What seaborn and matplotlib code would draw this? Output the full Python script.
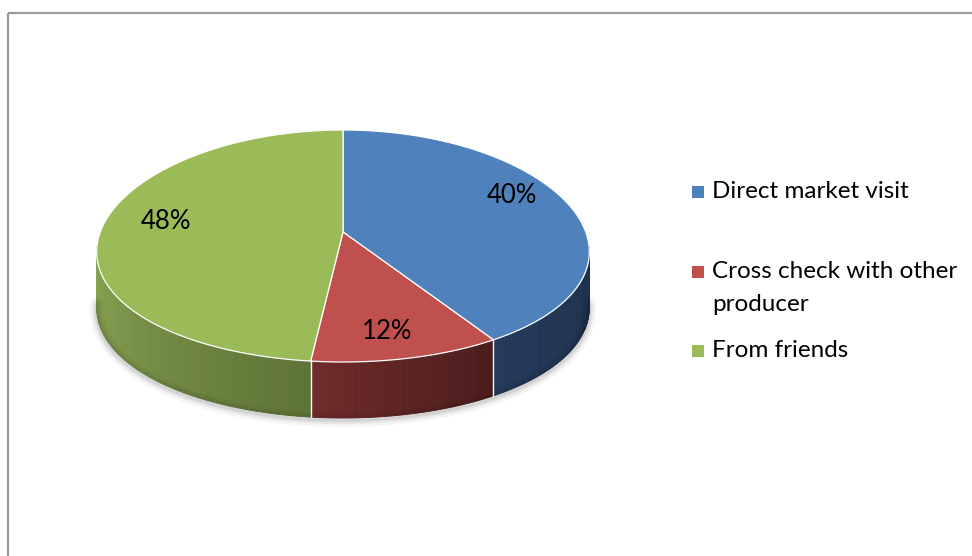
import numpy as np
import matplotlib
matplotlib.use("Agg")
import matplotlib.pyplot as plt
from matplotlib.patches import Polygon, Rectangle
import seaborn as sns

# data
labels = ["Direct market visit", "Cross check with other\nproducer", "From friends"]
shares = [40, 12, 48]
top_colors = ["#4f81bd", "#c0504d", "#9bbb59"]
side_light = ["#25395a", "#702b2a", "#8ba653"]
side_dark = ["#1d3049", "#4a1c1c", "#5d7436"]

sns.set_theme(style="white")
plt.rcParams["font.family"] = ["Lato", "DejaVu Sans"]

fig = plt.figure(figsize=(9.72, 5.56), dpi=100)
ax = fig.add_axes([0, 0, 1, 1])
ax.set_xlim(0, 972)
ax.set_ylim(556, 0)
ax.axis("off")

# chart frame
ax.add_patch(Rectangle((8, 13), 980, 560, fill=False, ec="#9a9a9a", lw=1.6))

# pie geometry (pixel units)
cx, cy = 343, 246
rx, ry = 246, 116
apex = (343, 232)
depth = 56
persp = 0.05  # front of the disc a bit wider than the back


def rim(t):
    t = np.radians(t)
    return cx + rx * np.sin(t) * (1 - persp * np.cos(t)), cy - ry * np.cos(t)


angles = np.concatenate([[0], np.cumsum(shares) / np.sum(shares) * 360])

# soft shadow under the body
ts = np.linspace(90, 270, 200)
sx, sy = rim(ts)
for w, a in [(10, 0.04), (6, 0.06), (3, 0.08)]:
    ax.plot(sx, sy + depth + 2, color="black", lw=w, alpha=a, solid_capstyle="round")

# side faces (front half only)
for i in range(len(shares)):
    t1, t2 = max(angles[i], 90), min(angles[i + 1], 270)
    if t2 <= t1:
        continue
    c_l = np.array(matplotlib.colors.to_rgb(side_light[i]))
    c_d = np.array(matplotlib.colors.to_rgb(side_dark[i]))
    n = 60
    tt = np.linspace(t2, t1, n + 1)  # left to right on screen
    for k in range(n):
        xa, ya = rim(tt[k])
        xb, yb = rim(tt[k + 1])
        f = k / (n - 1)
        col = c_l * (1 - f) + c_d * f
        ax.add_patch(Polygon([(xa, ya), (xb, yb), (xb, yb + depth), (xa, ya + depth)],
                             closed=True, fc=col, ec=col, lw=0.6))
    # edges between side faces
    for t in (t1, t2):
        if 90 < t < 270:
            ex, ey = rim(t)
            ax.plot([ex, ex], [ey, ey + depth], color="white", lw=0.9, alpha=0.8)

# top faces
for i in range(len(shares)):
    tt = np.linspace(angles[i], angles[i + 1], 200)
    px, py = rim(tt)
    pts = [apex] + list(zip(px, py))
    ax.add_patch(Polygon(pts, closed=True, fc=top_colors[i], ec="white", lw=0.9))

# data labels
for i in range(len(shares)):
    mid = np.radians((angles[i] + angles[i + 1]) / 2)
    lx = cx + 0.72 * rx * np.sin(mid)
    ly = 228 - 0.92 * ry * np.cos(mid)
    ax.text(lx, ly, f"{shares[i]}%", fontsize=18.5, ha="center", va="center", color="black")

# legend
for i, lab in enumerate(labels):
    y = 192 + i * 79.5
    ax.scatter([698], [y], marker="s", s=75, color=top_colors[i], linewidths=0)
    ax.text(712, y - 11, lab, fontsize=17.5, ha="left", va="top", color="black", linespacing=1.75)

fig.savefig("out.png", dpi=100)
